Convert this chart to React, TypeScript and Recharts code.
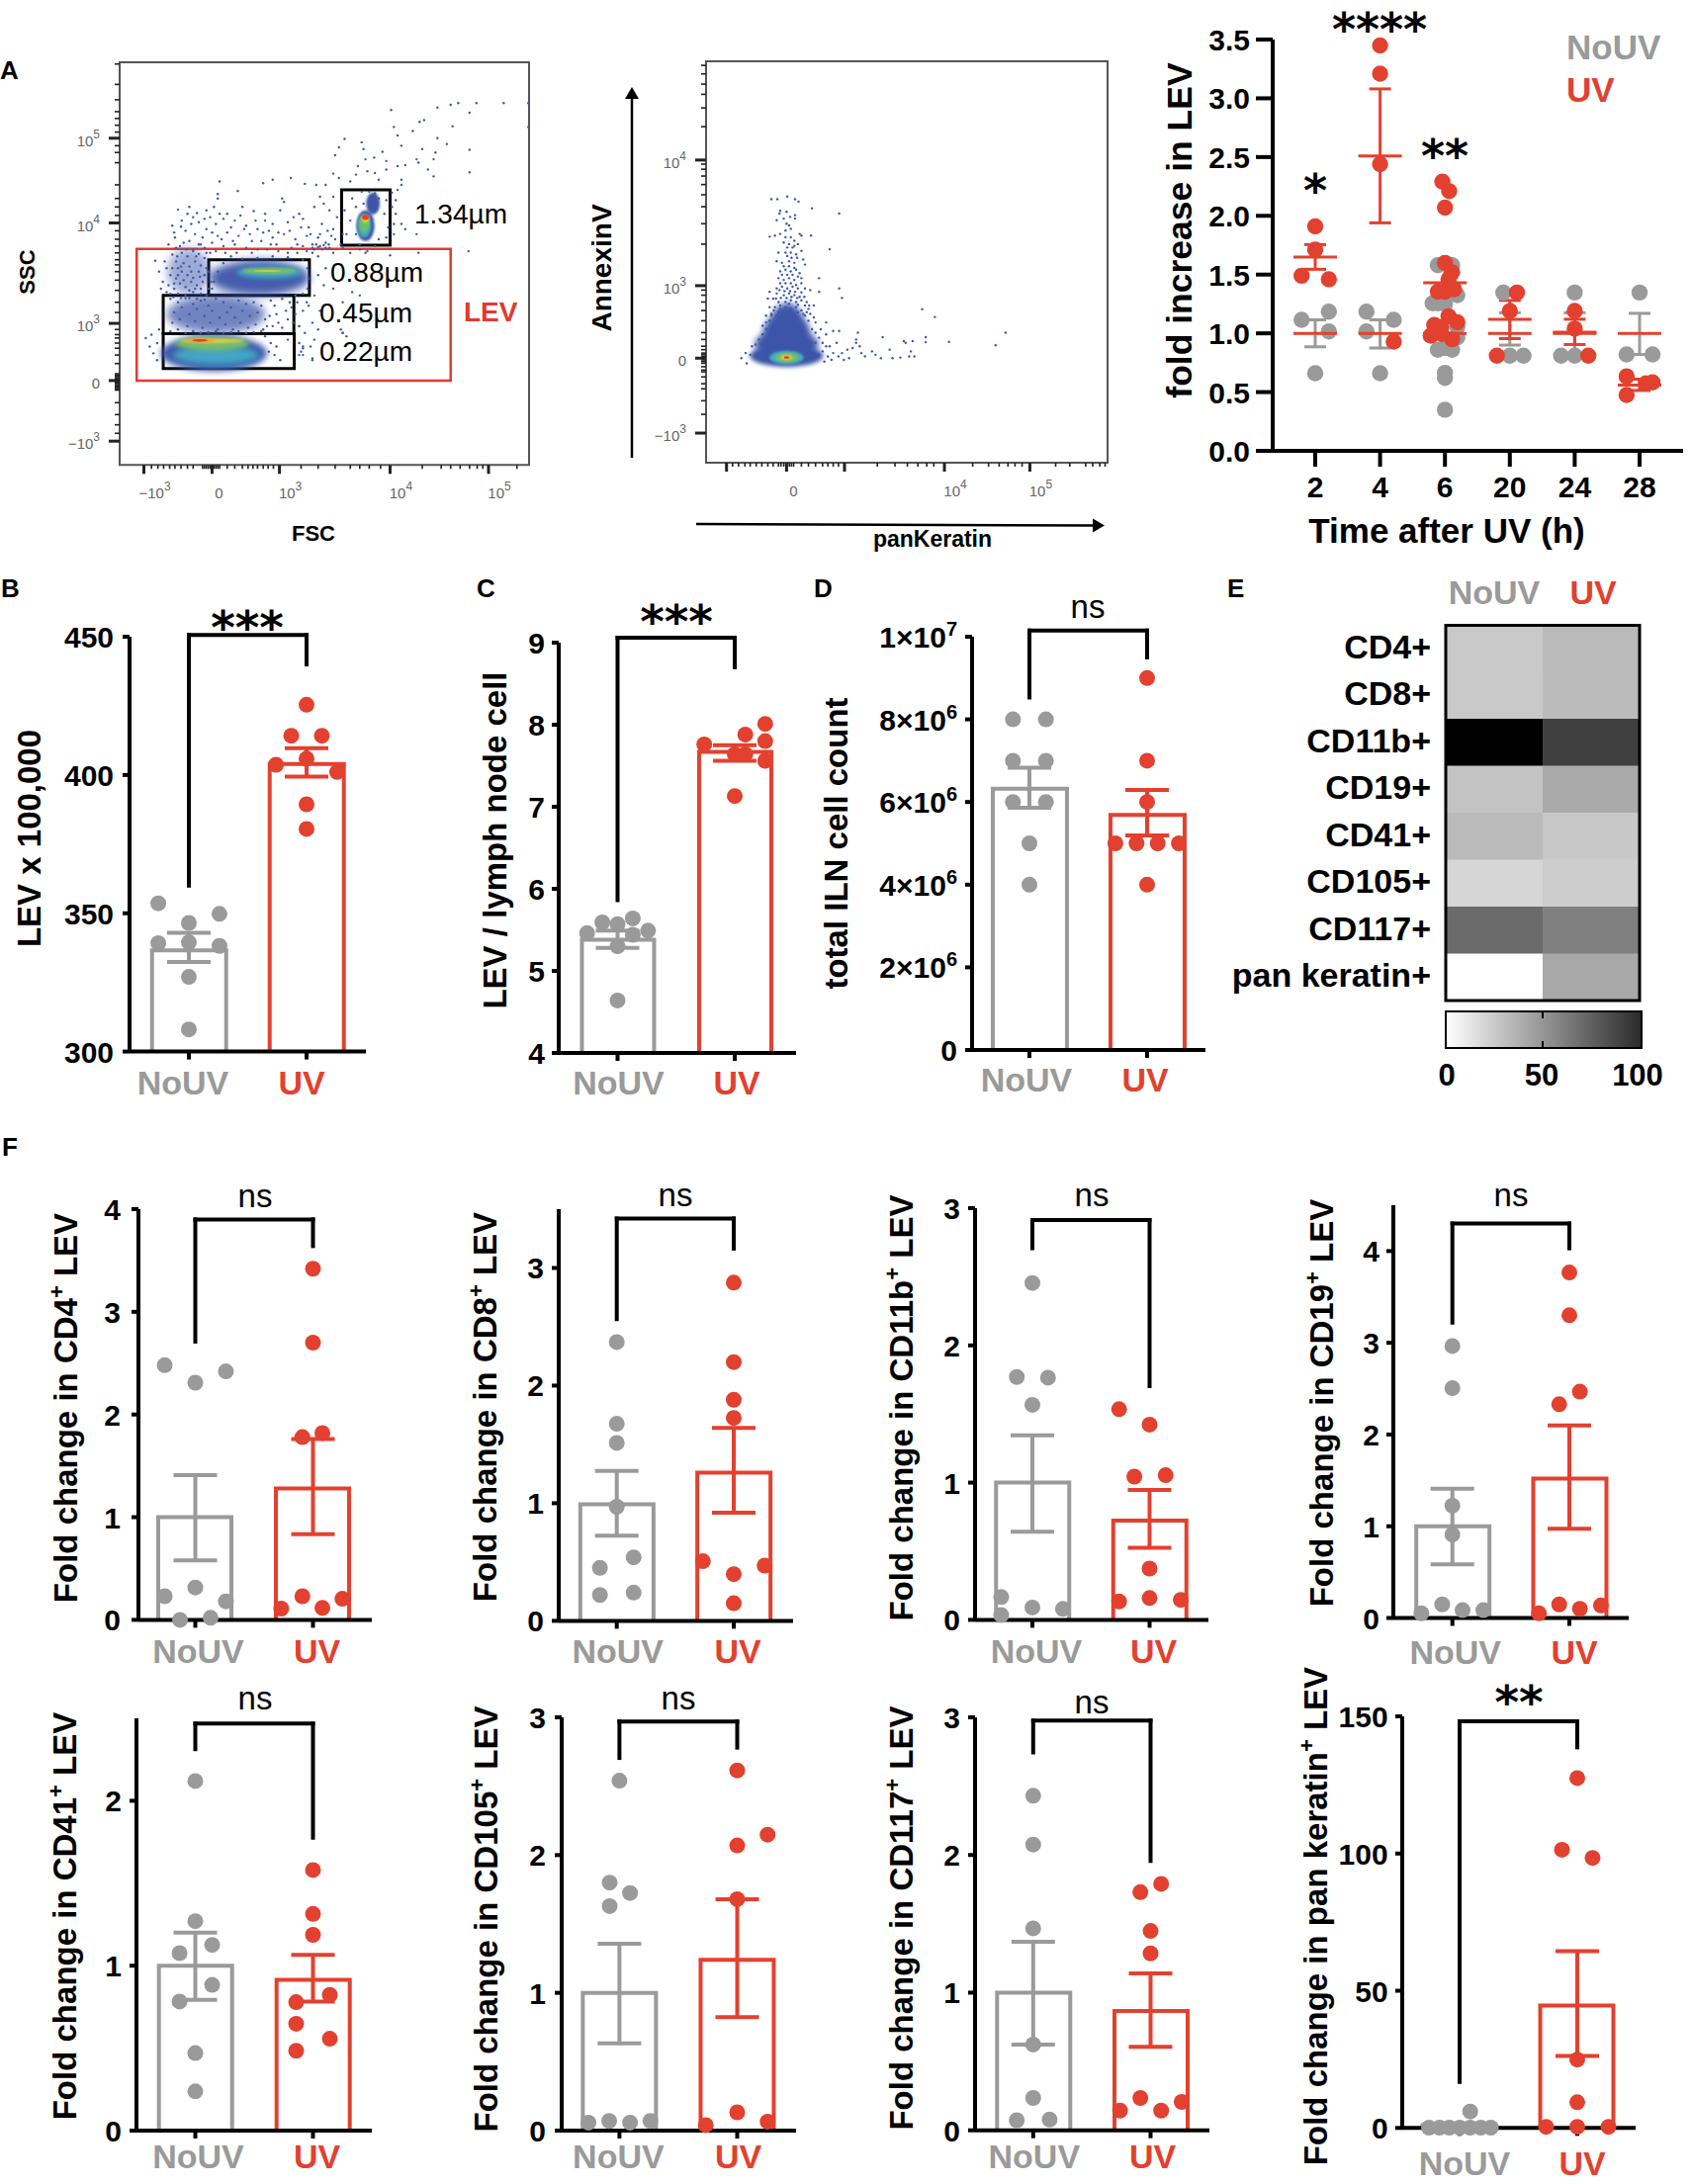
import React from 'react';
import {
  Bar,
  BarChart,
  Cell,
  ComposedChart,
  ErrorBar,
  ReferenceArea,
  ReferenceLine,
  Scatter,
  XAxis,
  YAxis,
} from 'recharts';

const GREY = '#9a9a9a';
const RED = '#e2412f';
const FONT = '"Liberation Sans", Arial, sans-serif';
const STAR_FONT = '"DejaVu Sans", sans-serif';
const groupLabels = ['NoUV', 'UV'];

// ---- B, C, D: bars with individual animals. Jitter is a fraction of the NoUV-UV distance.
const levNoUv = [353.6, 349.8, 346.5, 339.2, 339.5, 338.2, 327, 308];
const levNoUvX = [-0.26, 0.26, 0, -0.26, 0, 0.26, 0, 0];
const levUv = [425.4, 414.2, 414.2, 405.9, 403.7, 401.1, 389.4, 380.5];
const levUvX = [0, -0.13, 0.13, 0, -0.26, 0.26, 0, 0];
const levMeans = [336.6, 404];
const levLower = [332.4, 399.4];
const levUpper = [342.9, 409.7];
const levBracket = [360, 450.6, 440];
const levTicks = [300, 350, 400, 450];

const lnNoUv = [5.64, 5.59, 5.57, 5.46, 5.49, 5.44, 5.3, 4.64];
const lnNoUvX = [0.13, -0.13, 0, -0.26, 0.26, 0.13, 0, 0];
const lnUv = [8.01, 7.88, 7.8, 7.76, 7.64, 7.64, 7.56, 7.13];
const lnUvX = [0.26, 0.09, 0.26, -0.26, 0, 0.09, 0.26, 0];
const lnMeans = [5.38, 7.67];
const lnLower = [5.28, 7.56];
const lnUpper = [5.49, 7.75];
const lnBracket = [5.86, 9.06, 8.7];
const lnTicks = [4, 5, 6, 7, 8, 9];

const ilnNoUv = [8, 8, 7, 7, 6, 6, 5, 4];
const ilnNoUvX = [-0.14, 0.14, -0.14, 0.14, -0.14, 0.14, 0, 0];
const ilnUv = [9, 7, 6, 5, 5, 5, 5, 4];
const ilnUvX = [0, 0, 0, -0.27, -0.09, 0.09, 0.27, 0];
const ilnMeans = [6.32, 5.69];
const ilnLower = [5.86, 5.19];
const ilnUpper = [6.83, 6.29];
const ilnBracket = [8.53, 10.15, 9.5];
const ilnTicks = [0, 2, 4, 6, 8, 10];
const ilnTickLabels = [['0', ''], ['2×10', '6'], ['4×10', '6'], ['6×10', '6'], ['8×10', '6'], ['1×10', '7']];

// ---- F
const cd4NoUv = [2.48, 2.42, 2.31, 0.315, 0.23, 0.18, 0, 0.02];
const cd4NoUvX = [-0.26, 0.26, 0, 0, -0.26, 0.26, -0.13, 0.13];
const cd4Uv = [3.42, 2.7, 1.82, 1.78, 0.23, 0.205, 0.116, 0.11];
const cd4UvX = [0, 0, 0.08, -0.09, -0.09, 0.25, 0.08, -0.27];
const cd4Means = [1, 1.28];
const cd4Lower = [0.58, 0.835];
const cd4Upper = [1.41, 1.76];
const cd4Bracket = [2.71, 3.9, 3.64];

const cd8NoUv = [2.37, 1.675, 1.513, 0.97, 0.54, 0.45, 0.24, 0.22];
const cd8NoUvX = [0, 0, 0, 0, 0.144, -0.144, 0.144, -0.144];
const cd8Uv = [2.875, 2.2, 1.88, 1.725, 0.507, 0.47, 0.397, 0.15];
const cd8UvX = [0, 0, 0, 0, -0.264, 0.264, 0, 0];
const cd8Means = [0.99, 1.26];
const cd8Lower = [0.725, 0.92];
const cd8Upper = [1.275, 1.64];
const cd8Bracket = [2.565, 3.42, 3.165];

const cd11bNoUv = [2.455, 1.77, 1.765, 1.567, 0.166, 0.09, 0.08, 0.035];
const cd11bNoUvX = [0, -0.133, 0.133, 0, -0.266, 0, 0.26, -0.266];
const cd11bUv = [1.535, 1.423, 1.044, 1.054, 0.374, 0.159, 0.134, 0.146];
const cd11bUvX = [-0.26, 0, -0.13, 0.137, 0, 0, -0.26, 0.266];
const cd11bMeans = [1, 0.724];
const cd11bLower = [0.642, 0.526];
const cd11bUpper = [1.344, 0.947];
const cd11bBracket = [2.708, 2.913, 1.703];

const cd19NoUv = [2.965, 2.505, 1.224, 0.91, 0.148, 0.05, 0.085, 0.085];
const cd19NoUvX = [0, 0, 0, 0, -0.087, -0.265, 0.087, 0.265];
const cd19Uv = [3.766, 3.3, 2.467, 2.33, 0.148, 0.137, 0.1, 0.05];
const cd19UvX = [0, 0, 0.09, -0.087, -0.087, 0.27, 0.09, -0.26];
const cd19Means = [1, 1.52];
const cd19Lower = [0.586, 0.972];
const cd19Upper = [1.41, 2.1];
const cd19Bracket = [3.22, 4.3, 4.03];

const cd41NoUv = [2.12, 1.27, 1.126, 1.076, 0.884, 0.783, 0.47, 0.238];
const cd41NoUvX = [0, 0, 0.143, -0.134, 0.143, -0.134, 0, 0];
const cd41Uv = [1.58, 1.314, 1.187, 0.823, 0.779, 0.648, 0.557, 0.484];
const cd41UvX = [0, 0, 0, 0.143, -0.143, -0.143, 0.143, -0.143];
const cd41Means = [1, 0.914];
const cd41Lower = [0.793, 0.783];
const cd41Upper = [1.2, 1.066];
const cd41Bracket = [2.313, 2.468, 1.776];

const cd105NoUv = [2.54, 1.8, 1.725, 1.63, 0.07, 0.058, 0.058, 0.07];
const cd105NoUvX = [0, -0.083, 0.09, -0.083, -0.087, -0.263, 0.09, 0.263];
const cd105Uv = [2.615, 2.148, 2.07, 1.68, 0.133, 0.065, 0.04];
const cd105UvX = [0, 0.258, 0, 0, 0, 0.258, -0.267];
const cd105Means = [1, 1.24];
const cd105Lower = [0.634, 0.823];
const cd105Upper = [1.356, 1.68];
const cd105Bracket = [2.705, 2.97, 2.78];

const cd117NoUv = [2.43, 2.076, 1.467, 0.623, 0.235, 0.073, 0.078];
const cd117NoUvX = [0, 0, 0, 0, 0, -0.14, 0.14];
const cd117Uv = [1.79, 1.73, 1.448, 1.285, 0.235, 0.206, 0.143, 0.143];
const cd117UvX = [0.09, -0.087, 0, 0, -0.087, 0.265, -0.26, 0.09];
const cd117Means = [1, 0.866];
const cd117Lower = [0.623, 0.606];
const cd117Upper = [1.37, 1.14];
const cd117Bracket = [2.745, 2.976, 1.957];

const panKNoUv = [6, 0.1, 0.1, 0.1, 0.1, 0.1, 0.1, 0.1];
const panKNoUvX = [0.09, -0.26, -0.17, -0.087, 0, 0.09, 0.18, 0.265];
const panKUv = [127.5, 101.4, 98.4, 24.9, 9.35, 0.4, 0.4, 0.4];
const panKUvX = [0, -0.13, 0.13, 0, 0, -0.265, 0, 0.265];
const panKMeans = [1, 44.6];
const panKLower = [0.4, 26.2];
const panKUpper = [1.6, 64.4];
const panKBracket = [16.8, 148.2, 138.7];

// ---- A, right: time course
const timeCategories = ['2', '4', '6', '20', '24', '28'];
const timeTicks = [0, 0.5, 1, 1.5, 2, 2.5, 3, 3.5];
const timeNoUv = [
  [1.115, 1.184, 1.016, 0.661],
  [1.184, 1.115, 1.016, 0.661],
  [1.58, 1.58, 1.256, 1.325, 1.25, 1.256, 1.055, 1.055, 0.965, 0.86, 0.86, 0.664, 0.62, 0.35, 0.875],
  [1.347, 0.81, 0.81],
  [1.347, 0.81, 0.81],
  [1.347, 0.82, 0.82],
];
const timeNoUvX = [
  [-0.21, 0.21, 0.21, 0],
  [-0.21, 0.21, -0.21, 0],
  [-0.11, 0.11, -0.11, 0.19, 0, -0.19, -0.11, 0.19, 0.19, -0.11, 0.11, 0, 0, 0, 0],
  [-0.1, 0, 0.21],
  [0, -0.21, 0],
  [0, -0.2, 0.2],
];
const timeNoUvMeans = [1, 1, 1, 1, 1, 1];
const timeNoUvLower = [0.885, 0.875, 0.9, 0.9, 0.81, 0.82];
const timeNoUvUpper = [1.115, 1.115, 1.1, 1.175, 1.175, 1.17];
const timeUv = [
  [1.91, 1.713, 1.49, 1.46],
  [3.45, 3.21, 2.44, 0.93],
  [2.29, 2.21, 2.07, 1.6, 1.52, 1.355, 1.376, 1.46, 1.355, 1.145, 1.094, 1.07, 0.98, 1.055, 0.95, 0.995],
  [1.347, 1.19, 0.81],
  [1.19, 1.04, 0.81],
  [0.634, 0.583, 0.475, 0.574],
];
const timeUvX = [
  [0, 0, -0.21, 0.21],
  [0, 0, 0, 0.21],
  [-0.04, 0.065, 0, 0, 0.11, -0.11, 0.14, 0.055, 0, 0.055, 0.19, -0.165, -0.22, -0.055, 0.11, -0.055],
  [0.11, 0, -0.2],
  [0, 0, 0.21],
  [-0.2, 0.2, -0.2, 0.1],
];
const timeUvMeans = [1.65, 2.51, 1.43, 1.12, 1.01, 0.56];
const timeUvLower = [1.545, 1.94, 1.31, 0.955, 0.905, 0.514];
const timeUvUpper = [1.755, 3.08, 1.55, 1.28, 1.12, 0.61];

// ---- E: heat map, percent of max
const heatRows = ['CD4+', 'CD8+', 'CD11b+', 'CD19+', 'CD41+', 'CD105+', 'CD117+', 'pan keratin+'];
const heatNoUv = [21, 21, 100, 23.5, 27, 16, 58, 0];
const heatUv = [27, 26.5, 75, 33.5, 21.5, 19.5, 50, 34];

// ---- A, flow plots. Values are display channels of the cytometer plot.
const fscMajorTicks = [380, 560, 738, 1030, 1290];
const fscMinorTicks = [400, 417, 432, 448, 462, 478, 495, 510, 535, 540, 545, 550, 555, 565, 570, 575, 580, 600, 620, 640, 655, 668, 680, 695, 708, 722, 795, 840, 885, 925, 950, 975, 1005, 1115, 1165, 1190, 1215, 1240, 1260, 1275, 1365];
const fscLabels = [['\u221210', '3'], ['0', ''], ['10', '3'], ['10', '4'], ['10', '5']];
const sscMajorTicks = [192, 370, 538, 833, 1082];
const sscMinorTicks = [215, 240, 270, 305, 342, 346, 350, 354, 358, 362, 366, 374, 378, 382, 386, 390, 420, 445, 465, 480, 495, 505, 520, 570, 600, 635, 665, 690, 710, 725, 745, 765, 785, 810, 855, 880, 905, 945, 1010, 1040, 1060, 1100, 1120, 1140, 1160, 1195, 1240, 1300];
const sscLabels = [['\u221210', '3'], ['0', ''], ['10', '3'], ['10', '4'], ['10', '5']];

const fscSscDots = [
  [1190,1180],[1210,1185],[1258,1185],[1330,1185],[1395,1185],[1395,1115],[1240,1157],[1155,1172],[1033,1165],[1120,1135],[1108,1130],[1195,1117],[1040,1115],[1090,1103],[1155,1082],[1240,1048],[1180,1065],[1050,1090],[1060,1060],[910,1080],[955,1070],[895,1055],[885,1032],[1010,1042],[988,1025],[960,1050],[1150,1040],[1115,1050],[1100,1020],[1240,982],[1145,1020],[1130,990],[1145,970],[1070,1003],[1105,1010],[1050,1000],[1020,1015],[1020,990],[990,980],[965,1020],[945,1000],[970,985],[880,978],[895,965],[940,975],[925,955],[1060,960],[1060,945],[1000,960],[1050,930],[1035,922],[580,955],[720,960],[768,965],[695,950],[805,948],[835,945],[860,945],[628,927],[575,918],[575,905],[745,905],[750,895],[845,910],[855,890],[880,910],
  [470,872],[500,880],[520,862],[545,870],[565,880],[600,860],[640,880],[670,868],[700,860],[740,870],[790,860],[830,880],[870,870],[890,850],[480,840],[510,850],[455,825],[540,845],[570,830],[590,845],[620,840],[650,825],[680,815],[700,840],[720,830],[760,835],[800,845],[815,820],[850,830],[880,815],[905,800],[900,770],[885,785],[460,805],[490,810],[515,800],[545,815],[575,795],[600,805],[630,795],[660,800],[690,780],[720,790],[750,800],[780,785],[810,795],[840,790],[860,775],[870,760],[835,770],[855,768],[845,765],[500,780],[530,770],[560,775],[590,765],[620,770],[650,760],[680,755],[715,770],[770,760],[800,765],[825,770],[475,765],[510,755],
  [462,790],[478,822],[495,860],[505,830],[525,835],[535,790],[555,850],[560,805],[580,860],[585,785],[610,820],[615,780],[635,855],[645,815],[665,780],[675,840],[695,805],[710,810],[730,770],[735,805],[765,810],[775,850],[785,770],[795,820],[820,800],[830,755],[845,800],[865,810],[875,795],[850,755],[860,760],[868,770],[840,762],[825,745],[810,750],[785,745],[760,745],[735,750],[705,755],[665,745],[625,745],[595,745],[570,750],[555,745],[540,760],[525,770],[485,775],[465,760],[445,770],
  [410,722],[420,690],[440,700],[455,740],[465,720],[480,745],[495,735],[510,750],[525,742],[540,730],[470,700],[485,715],[500,705],[515,720],[530,708],[545,700],[450,680],[465,670],[480,690],[495,680],[510,672],[525,690],[540,680],[445,650],[460,640],[475,655],[490,645],[505,660],[520,650],[535,660],[550,640],[450,625],[470,625],[490,620],[510,630],[530,625],[545,620],
  [455,700],[468,735],[478,705],[492,755],[505,690],[518,735],[528,675],[545,745],[552,690],[557,660],[460,655],[470,680],[485,665],[500,635],[515,640],[530,640],[458,615],[478,612],[500,612],[520,610],[540,608],[440,630],[430,660],[425,640],[435,720],
  [825,760],[840,735],[860,700],[880,745],[905,760],[925,745],[950,755],[970,750],[1030,738],[1105,745],[1237,750],[840,680],[855,650],[880,640],[930,630],[950,620],[905,600],[830,620],[845,575],[810,600],[805,510],[830,490],[905,510],[915,500],[790,530],[795,455],[825,435],[800,470],[790,445],
  [560,640],[565,660],[575,690],[590,715],[610,735],[640,728],[680,730],[720,735],[760,732],[800,725],[812,700],[815,670],[812,640],[800,625],[780,620],
  [910,870],[925,840],[915,800],[940,800],[1000,785],[1020,790],[1040,830],[1045,860],[1035,880],[1045,900],[1060,830],[1040,800],[1070,815],[1100,800],[1015,860],[1020,900],[1000,905],[990,920],[975,925],[955,925],[940,880],[930,905],[960,890],[1025,820],[950,770],[965,745],[990,765],
  [450,610],[470,600],[490,612],[510,595],[530,605],[550,590],[570,610],[590,600],[610,585],[630,605],[650,595],[670,600],[690,590],[715,605],[745,610],[770,585],[800,575],[460,570],[480,585],[500,565],[520,580],[540,560],[560,575],[580,555],[600,570],[620,555],[640,575],[660,560],[680,570],[700,550],[730,565],[760,550],[790,530],[455,540],[475,550],[495,530],[515,545],[535,525],[555,540],[575,520],[595,535],[615,520],[635,540],[655,525],[675,535],[695,520],[720,530],[745,525],[775,540],[450,515],[470,520],[490,510],[510,515],[530,510],[550,512],[570,515],[590,510],[610,512],[630,515],[650,510],[670,512],[690,515],
  [705,530],[712,560],[725,590],[735,540],[755,575],[765,600],[780,565],[785,600],[815,590],[825,540],[840,520],
  [385,495],[395,470],[400,505],[415,480],[420,520],[405,450],[415,430],[700,500],[715,480],[730,470],[710,455],[725,445],[740,430],[760,490],[790,480],[800,465],[800,445],[820,470],[825,430],[900,520],[905,510],
];
// x, y, radius x, radius y, colour, opacity, blur
const fscSscDensity = [
  [570, 565, 130, 56, '#3c55a8', 0.72, 4],
  [498, 690, 56, 68, '#3c55a8', 0.5, 5],
  [565, 450, 140, 52, '#3c55a8', 1, 3],
  [570, 445, 115, 28, '#43a6c6', 1, 3],
  [560, 478, 98, 20, '#74bf6c', 1, 2],
  [560, 487, 85, 7, '#d8cb4c', 1, 1],
  [530, 488, 40, 5, '#f0a030', 1, 1],
  [528, 488, 20, 4, '#e8402a', 1, 0.5],
  [685, 672, 132, 52, '#3c55a8', 0.95, 4],
  [712, 688, 88, 18, '#44a2c4', 1, 2],
  [712, 692, 72, 9, '#76be66', 1, 1],
  [706, 692, 36, 3, '#c8c84a', 1, 0.5],
  [985, 890, 18, 32, '#3c55a8', 1, 1],
  [965, 825, 24, 45, '#3c55a8', 1, 1],
  [962, 825, 18, 35, '#41a8c0', 1, 1],
  [962, 830, 14, 25, '#6abf69', 1, 1],
  [965, 845, 10, 12, '#e0d040', 1, 1],
  [965, 850, 9, 8, '#e8402a', 1, 0.5],
];
const gate134 = [902, 1030, 768, 930];
const gate088 = [551, 817, 620, 725];
const gate045 = [431, 776, 508, 620];
const gate022 = [431, 777, 405, 508];
const gateLev = [361, 1190, 370, 757];

const panKMajorTicks = [378, 548, 712, 995, 1237];
const panKMinorTicks = [395, 412, 430, 445, 462, 478, 495, 510, 525, 532, 540, 556, 562, 568, 590, 610, 630, 650, 665, 680, 695, 805, 855, 890, 920, 945, 965, 1075, 1120, 1150, 1175, 1195, 1215, 1310, 1350, 1395, 1415, 1435, 1450];
const panKLabels = [['', ''], ['0', ''], ['', ''], ['10', '4'], ['10', '5']];
const annexMajorTicks = [215, 435, 648, 1017];
const annexMinorTicks = [270, 310, 345, 360, 380, 395, 400, 410, 420, 425, 430, 440, 445, 450, 460, 470, 490, 510, 545, 575, 600, 620, 635, 770, 830, 880, 915, 945, 970, 990, 1005, 1115, 1170, 1210, 1240, 1270, 1295];
const annexLabels = [['\u221210', '3'], ['0', ''], ['10', '3'], ['10', '4']];
const panKAnnexDots = [
  [505,902],[522,902],[550,910],[572,902],[582,895],[620,875],[697,860],[530,868],[548,865],[528,860],[572,855],[520,840],[572,845],[548,830],[555,825],[585,800],[590,795],[617,795],[500,792],[515,795],[530,800],[545,790],[560,790],[570,780],[580,770],[540,775],[550,760],[565,760],[525,745],[545,745],[560,745],[575,740],[590,750],[670,755],[520,720],[535,715],[555,720],[570,715],[595,725],[600,710],[530,690],[545,695],[560,690],[575,695],[585,685],[525,670],[540,665],[555,670],[570,665],[590,670],[640,670],[520,640],[535,645],[550,640],[565,645],[580,640],[600,640],[615,635],[520,625],[540,620],[555,625],[570,620],[585,615],[500,630],[510,610],[525,600],[545,600],[560,605],[575,600],[590,605],[605,600],[625,590],[640,630],[697,640],[705,612],[495,610],[500,585],[515,585],[530,580],[545,585],[560,580],[575,585],[590,575],[610,580],[490,560],[505,565],[520,560],[540,560],[555,560],[570,560],[600,560],[625,555],
  [505,560],[512,575],[525,570],[535,570],[550,570],[562,570],[580,570],[595,565],[605,570],[615,565],[500,545],[490,520],[480,505],[470,490],[460,475],[620,520],[630,510],[640,495],[650,480],[660,470],[630,480],[650,455],[665,440],[675,430],[640,445],[655,425],[530,590],[555,595],[580,592],[600,590],[612,590],[518,610],[532,612],[548,612],[562,615],[578,612],[598,615],[528,635],[542,632],[558,632],[572,630],[590,628],[530,655],[545,655],[560,655],[575,650],[590,655],[535,680],[550,680],[565,680],[580,675],[540,705],[555,705],[570,700],[550,735],[562,730],[578,730],[555,770],[570,765],[545,810],[560,815],[540,845],[558,850],
  [480,530],[490,540],[610,545],[630,540],[660,540],[680,515],[697,515],[645,520],[660,505],[750,510],[820,497],[880,485],[905,485],[942,497],[942,482],[1008,483],[1168,510],[1140,473],[932,579],[968,556],[745,480],[755,470],[690,480],[705,450],[720,460],[735,465],[760,450],[770,440],[790,455],[800,445],[815,435],[840,460],[848,435],[870,437],[885,480],[900,455],[895,440],[910,440],[745,490],[670,470],[680,450],[695,440],[710,430],[725,435],[435,420],[420,435],[432,450],[450,470],[445,445],
];
const panKAnnexDensity = [
  [548, 442, 104, 32, '#3c55a8', 1, 2],
  [548, 475, 90, 45, '#3c55a8', 1, 3],
  [548, 512, 66, 55, '#3c55a8', 1, 3],
  [550, 548, 42, 48, '#3c55a8', 1, 3],
  [548, 437, 48, 20, '#45abc4', 1, 1],
  [548, 437, 34, 14, '#72bf6a', 1, 1],
  [548, 437, 18, 8, '#dcc84a', 1, 1],
  [548, 437, 8, 4, '#e8402a', 1, 0.5],
];

// ---- layout
const dot = (r, fill) => (props) => <circle cx={props.cx} cy={props.cy} r={r} fill={fill} />;
const noMark = () => <g />;
const toPoints = (values, jitter, center) => values.map((y, i) => ({ x: center + jitter[i], y }));
const stat = (x, mean, lo, hi) => [{ x, y: mean, err: [mean - lo, hi - mean] }];

function DotBarPanel({ p }) {
  const TOP = 70;
  const YW = 130;
  const XH = 70;
  const plotH = p.yBottom - p.yTop;
  const plotW = p.xEnd - p.axisX;
  const spacing = p.c1 - p.c0;
  const domainX = [(p.axisX - p.c0) / spacing, (p.xEnd - p.c0) / spacing];
  const bars = p.means.map((y, i) => ({ x: i, y }));
  const labelBase = TOP + plotH + (p.labelY - p.yBottom);
  const [left, top, right] = p.bracket;
  const seg = { stroke: '#000', strokeWidth: 4, ifOverflow: 'visible', strokeLinecap: 'square' };

  const yTick = (t) => {
    const custom = p.tickLabels ? p.tickLabels[t.index] : null;
    return (
      <text x={YW - (p.axisX - p.labelRight)} y={t.y + 11} textAnchor="end" fontFamily={FONT} fontWeight="bold" fontSize={30}>
        {custom ? custom[0] : t.payload.value}
        {custom && custom[1] ? <tspan dy={-12} fontSize={20}>{custom[1]}</tspan> : null}
      </text>
    );
  };
  const xTick = (t) => (
    <text x={t.x + p.labelDx[t.index]} y={labelBase} textAnchor="middle" fontFamily={FONT} fontWeight="bold" fontSize={34} fill={t.index === 0 ? GREY : RED}>
      {groupLabels[t.index]}
    </text>
  );

  return (
    <div style={{ position: 'absolute', left: p.axisX - YW, top: p.yTop - TOP }}>
      <ComposedChart width={YW + plotW + 10} height={TOP + plotH + XH} data={bars} margin={{ top: TOP, right: 10, bottom: 0, left: 0 }}>
        <XAxis dataKey="x" type="number" domain={domainX} ticks={[0, 1]} interval={0} height={XH} allowDataOverflow
          tick={xTick} tickSize={8} tickLine={{ stroke: '#000', strokeWidth: 4 }} axisLine={{ stroke: '#000', strokeWidth: 4 }} />
        <YAxis type="number" domain={p.domainY} ticks={p.ticks} interval={0} width={YW}
          tick={yTick} tickSize={7} tickLine={{ stroke: '#000', strokeWidth: 4 }} axisLine={{ stroke: '#000', strokeWidth: 4 }} />
        <Bar dataKey="y" barSize={p.barW} isAnimationActive={false}
          shape={(b) => {
            // the library hands back a narrow band on a number axis, so widen it around its centre
            const cx = b.x + b.width / 2;
            const half = p.barW / 2;
            return (
              <path d={`M${cx - half},${b.y + b.height}V${b.y}H${cx + half}V${b.y + b.height}`} fill="#fff" stroke={b.payload.x === 0 ? GREY : RED} strokeWidth={4} />
            );
          }} />
        <Scatter data={toPoints(p.noUv, p.noUvX, 0)} dataKey="y" shape={dot(8, GREY)} isAnimationActive={false} />
        <Scatter data={stat(0, p.means[0], p.lower[0], p.upper[0])} dataKey="y" shape={noMark} isAnimationActive={false}>
          <ErrorBar dataKey="err" direction="y" width={22} stroke={GREY} strokeWidth={4} isAnimationActive={false} />
        </Scatter>
        <Scatter data={toPoints(p.uv, p.uvX, 1)} dataKey="y" shape={dot(8, RED)} isAnimationActive={false} />
        <Scatter data={stat(1, p.means[1], p.lower[1], p.upper[1])} dataKey="y" shape={noMark} isAnimationActive={false}>
          <ErrorBar dataKey="err" direction="y" width={22} stroke={RED} strokeWidth={4} isAnimationActive={false} />
        </Scatter>
        <ReferenceLine {...seg} segment={[{ x: 0, y: left }, { x: 0, y: top }]} />
        <ReferenceLine {...seg} segment={[{ x: 0, y: top }, { x: 1, y: top }]} />
        <ReferenceLine {...seg} segment={[{ x: 1, y: top }, { x: 1, y: right }]} />
      </ComposedChart>
    </div>
  );
}

const meanLine = (half, stroke) => (props) => (
  <line x1={props.cx - half} x2={props.cx + half} y1={props.cy} y2={props.cy} stroke={stroke} strokeWidth={3} />
);

function TimeCoursePanel() {
  const axisX = 1287;
  const xEnd = 1702;
  const yTop = 40;
  const yBottom = 456;
  const c0 = 1330;
  const step = 65.6;
  const TOP = 30;
  const YW = 70;
  const XH = 60;
  const noUvDots = timeNoUv.flatMap((vals, i) => toPoints(vals, timeNoUvX[i], i));
  const uvDots = timeUv.flatMap((vals, i) => toPoints(vals, timeUvX[i], i));
  const noUvStats = timeCategories.map((_, i) => ({ x: i, y: timeNoUvMeans[i], err: [timeNoUvMeans[i] - timeNoUvLower[i], timeNoUvUpper[i] - timeNoUvMeans[i]] }));
  const uvStats = timeCategories.map((_, i) => ({ x: i, y: timeUvMeans[i], err: [timeUvMeans[i] - timeUvLower[i], timeUvUpper[i] - timeUvMeans[i]] }));
  return (
    <div style={{ position: 'absolute', left: axisX - YW, top: yTop - TOP }}>
      <ComposedChart width={YW + xEnd - axisX} height={TOP + yBottom - yTop + XH} margin={{ top: TOP, right: 0, bottom: 0, left: 0 }}>
        <XAxis dataKey="x" type="number" domain={[(axisX - c0) / step, (xEnd - c0) / step]} ticks={[0, 1, 2, 3, 4, 5]} interval={0} height={XH}
          tick={(t) => (
            <text x={t.x} y={TOP + yBottom - yTop + 47} textAnchor="middle" fontFamily={FONT} fontWeight="bold" fontSize={30}>{timeCategories[t.index]}</text>
          )}
          tickSize={16} tickLine={{ stroke: '#000', strokeWidth: 4 }} axisLine={{ stroke: '#000', strokeWidth: 4 }} />
        <YAxis type="number" domain={[0, 3.5]} ticks={timeTicks} interval={0} width={YW}
          tick={(t) => (
            <text x={YW - 23} y={t.y + 11} textAnchor="end" fontFamily={FONT} fontWeight="bold" fontSize={30}>{t.payload.value.toFixed(1)}</text>
          )}
          tickSize={17} tickLine={{ stroke: '#000', strokeWidth: 4 }} axisLine={{ stroke: '#000', strokeWidth: 4 }} />
        <Scatter data={noUvDots} dataKey="y" shape={dot(8.2, GREY)} isAnimationActive={false} />
        <Scatter data={noUvStats} dataKey="y" shape={meanLine(22, RED)} isAnimationActive={false}>
          <ErrorBar dataKey="err" direction="y" width={11} stroke={GREY} strokeWidth={3} isAnimationActive={false} />
        </Scatter>
        <Scatter data={uvDots} dataKey="y" shape={dot(8.2, RED)} isAnimationActive={false} />
        <Scatter data={uvStats} dataKey="y" shape={meanLine(22, RED)} isAnimationActive={false}>
          <ErrorBar dataKey="err" direction="y" width={11} stroke={RED} strokeWidth={3} isAnimationActive={false} />
        </Scatter>
      </ComposedChart>
    </div>
  );
}

function HeatmapPanel() {
  const rows = heatRows.map((row) => ({ row, noUvCell: 1, uvCell: 1 }));
  const grey = (v) => {
    const c = Math.round(255 * (1 - v / 100));
    return `rgb(${c},${c},${c})`;
  };
  const YW = 240;
  return (
    <div style={{ position: 'absolute', left: 1462 - YW, top: 632 }}>
      <BarChart layout="vertical" width={YW + 196} height={380} data={rows} barCategoryGap={0} margin={{ top: 0, right: 0, bottom: 0, left: 0 }}>
        <XAxis type="number" hide domain={[0, 2]} />
        <YAxis type="category" dataKey="row" width={YW} interval={0} axisLine={false} tickLine={false}
          tick={(t) => (
            <text x={YW - 15} y={t.y + 10} textAnchor="end" fontFamily={FONT} fontWeight="bold" fontSize={34}>{t.payload.value}</text>
          )} />
        <Bar dataKey="noUvCell" stackId="h" isAnimationActive={false}>
          {heatNoUv.map((v, i) => <Cell key={i} fill={grey(v)} />)}
        </Bar>
        <Bar dataKey="uvCell" stackId="h" isAnimationActive={false}>
          {heatUv.map((v, i) => <Cell key={i} fill={grey(v)} />)}
        </Bar>
      </BarChart>
    </div>
  );
}

function FlowPanel({ f }) {
  const YW = 110;
  const plotW = f.right - f.left;
  const plotH = f.bottom - f.top;
  const sx = plotW / (f.domainX[1] - f.domainX[0]);
  const sy = plotH / (f.domainY[1] - f.domainY[0]);
  const dots = f.dots.map(([x, y]) => ({ x, y }));
  const blobs = f.density.map(([x, y, rx, ry, fill, opacity, blur]) => ({ x, y, rx, ry, fill, opacity, blur }));
  const xTicks = [...f.xMajor, ...f.xMinor].sort((a, b) => a - b);
  const yTicks = [...f.yMajor, ...f.yMinor].sort((a, b) => a - b);
  const bottomPx = 10 + plotH;
  const supLabel = (label, x, y, anchor) => (
    <text x={x} y={y} textAnchor={anchor} fontFamily={FONT} fontSize={15} fill="#666">
      {label[0]}
      {label[1] ? <tspan dy={-8} fontSize={12}>{label[1]}</tspan> : null}
    </text>
  );
  const xTick = (t) => {
    const idx = f.xMajor.indexOf(t.payload.value);
    const major = idx >= 0;
    return (
      <g>
        <line x1={t.x} x2={t.x} y1={bottomPx} y2={bottomPx + (major ? 9 : 4)} stroke="#222" strokeWidth={major ? 3 : 1.6} />
        {major ? supLabel(f.xLabels[idx], t.x + (idx === 1 ? 7 : 11), bottomPx + 34, 'middle') : null}
      </g>
    );
  };
  const yTick = (t) => {
    const idx = f.yMajor.indexOf(t.payload.value);
    const major = idx >= 0;
    return (
      <g>
        <line x1={YW} x2={YW - (major ? 11 : 5)} y1={t.y} y2={t.y} stroke="#222" strokeWidth={major ? 3 : 1.6} />
        {major ? supLabel(f.yLabels[idx], YW - 20, t.y + 8, 'end') : null}
      </g>
    );
  };
  const area = (g, stroke, width) => (
    <ReferenceArea x1={g[0]} x2={g[1]} y1={g[2]} y2={g[3]} fill="none" stroke={stroke} strokeWidth={width} ifOverflow="visible" />
  );
  return (
    <div style={{ position: 'absolute', left: f.left - YW, top: f.top - 10 }}>
      <ComposedChart width={YW + plotW + 10} height={10 + plotH + 50} margin={{ top: 10, right: 10, bottom: 0, left: 0 }}>
        <XAxis dataKey="x" type="number" domain={f.domainX} ticks={xTicks} interval={0} height={50} axisLine={false} tickLine={false} tickSize={0} tickMargin={0} tick={xTick} />
        <YAxis type="number" domain={f.domainY} ticks={yTicks} interval={0} width={YW} axisLine={false} tickLine={false} tickSize={0} tickMargin={0} tick={yTick} />
        <Scatter data={blobs.slice(0, f.backLayers)} dataKey="y" isAnimationActive={false}
          shape={(b) => (
            <ellipse cx={b.cx} cy={b.cy} rx={b.rx * sx} ry={b.ry * sy} fill={b.fill} opacity={b.opacity} style={{ filter: `blur(${b.blur}px)` }} />
          )} />
        <Scatter data={dots} dataKey="y" shape={dot(1.2, '#3f58ad')} isAnimationActive={false} />
        <Scatter data={blobs.slice(f.backLayers)} dataKey="y" isAnimationActive={false}
          shape={(b) => (
            <ellipse cx={b.cx} cy={b.cy} rx={b.rx * sx} ry={b.ry * sy} fill={b.fill} opacity={b.opacity} style={{ filter: `blur(${b.blur}px)` }} />
          )} />
        {f.gates.map((g, i) => <React.Fragment key={i}>{area(g, '#000', 3)}</React.Fragment>)}
        {f.redGate ? area(f.redGate, '#e03a30', 2.5) : null}
        {area([f.domainX[0], f.domainX[1], f.domainY[0], f.domainY[1]], '#555', 2)}
      </ComposedChart>
    </div>
  );
}

const flowPanels = [
  {
    left: 121, right: 535, top: 62.7, bottom: 470, domainX: [316, 1397], domainY: [122, 1305],
    dots: fscSscDots, density: fscSscDensity, backLayers: 2, xMajor: fscMajorTicks, xMinor: fscMinorTicks, xLabels: fscLabels,
    yMajor: sscMajorTicks, yMinor: sscMinorTicks, yLabels: sscLabels,
    gates: [gate134, gate088, gate045, gate022], redGate: gateLev,
  },
  {
    left: 714, right: 1120, top: 62, bottom: 468, domainX: [320, 1457], domainY: [128, 1307],
    dots: panKAnnexDots, density: panKAnnexDensity, backLayers: 0, xMajor: panKMajorTicks, xMinor: panKMinorTicks, xLabels: panKLabels,
    yMajor: annexMajorTicks, yMinor: annexMinorTicks, yLabels: annexLabels, gates: [],
  },
];

const foldTicks3 = [0, 1, 2, 3];
const barPanels = [
  { axisX: 131, xEnd: 370, yTop: 644, yBottom: 1063.6, c0: 191, c1: 310, barW: 75, domainY: [300, 450], ticks: levTicks, labelRight: 115, labelY: 1107, labelDx: [-6, -5], noUv: levNoUv, noUvX: levNoUvX, uv: levUv, uvX: levUvX, means: levMeans, lower: levLower, upper: levUpper, bracket: levBracket, title: ['LEV x 100,000', '', ''], titleX: 41, titleY: 848, sig: '***', sigX: 250, sigY: 651 },
  { axisX: 565, xEnd: 805, yTop: 650, yBottom: 1065, c0: 624.5, c1: 743, barW: 73, domainY: [4, 9], ticks: lnTicks, labelRight: 551, labelY: 1107, labelDx: [1, 2], noUv: lnNoUv, noUvX: lnNoUvX, uv: lnUv, uvX: lnUvX, means: lnMeans, lower: lnLower, upper: lnUpper, bracket: lnBracket, title: ['LEV / lymph node cell', '', ''], titleX: 512, titleY: 850, sig: '***', sigX: 684, sigY: 645 },
  { axisX: 983, xEnd: 1219, yTop: 644, yBottom: 1062, c0: 1041, c1: 1160, barW: 75, domainY: [0, 10], ticks: ilnTicks, tickLabels: ilnTickLabels, labelRight: 968, labelY: 1104, labelDx: [-3, -2], noUv: ilnNoUv, noUvX: ilnNoUvX, uv: ilnUv, uvX: ilnUvX, means: ilnMeans, lower: ilnLower, upper: ilnUpper, bracket: ilnBracket, title: ['total ILN cell count', '', ''], titleX: 857, titleY: 853, sig: 'ns', sigX: 1100, sigY: 625 },
  { axisX: 140, xEnd: 376, yTop: 1222.6, yBottom: 1638, c0: 197.5, c1: 316.5, barW: 74, domainY: [0, 4], ticks: [0, 1, 2, 3, 4], labelRight: 122, labelY: 1682, labelDx: [3, 4], noUv: cd4NoUv, noUvX: cd4NoUvX, uv: cd4Uv, uvX: cd4UvX, means: cd4Means, lower: cd4Lower, upper: cd4Upper, bracket: cd4Bracket, title: ['Fold change in CD4', '+', ' LEV'], titleX: 78, titleY: 1424, sig: 'ns', sigX: 258, sigY: 1221 },
  { axisX: 565, xEnd: 802, yTop: 1222.6, yBottom: 1639, c0: 623.7, c1: 742, barW: 74, domainY: [0, 3.5], ticks: foldTicks3, labelRight: 550, labelY: 1682, labelDx: [1, 4], noUv: cd8NoUv, noUvX: cd8NoUvX, uv: cd8Uv, uvX: cd8UvX, means: cd8Means, lower: cd8Lower, upper: cd8Upper, bracket: cd8Bracket, title: ['Fold change in CD8', '+', ' LEV'], titleX: 502, titleY: 1423, sig: 'ns', sigX: 683, sigY: 1220 },
  { axisX: 986, xEnd: 1222, yTop: 1221.6, yBottom: 1638, c0: 1044, c1: 1162.5, barW: 74, domainY: [0, 3], ticks: foldTicks3, labelRight: 971, labelY: 1682, labelDx: [4, 4], noUv: cd11bNoUv, noUvX: cd11bNoUvX, uv: cd11bUv, uvX: cd11bUvX, means: cd11bMeans, lower: cd11bLower, upper: cd11bUpper, bracket: cd11bBracket, title: ['Fold change in CD11b', '+', ' LEV'], titleX: 923, titleY: 1424, sig: 'ns', sigX: 1104, sigY: 1220 },
  { axisX: 1409, xEnd: 1647, yTop: 1218.5, yBottom: 1636, c0: 1468.7, c1: 1587, barW: 74, domainY: [0, 4.5], ticks: [0, 1, 2, 3, 4], labelRight: 1395, labelY: 1682, labelDx: [3, 5], noUv: cd19NoUv, noUvX: cd19NoUvX, uv: cd19Uv, uvX: cd19UvX, means: cd19Means, lower: cd19Lower, upper: cd19Upper, bracket: cd19Bracket, title: ['Fold change in CD19', '+', ' LEV'], titleX: 1348, titleY: 1419, sig: 'ns', sigX: 1528, sigY: 1220 },
  { axisX: 138, xEnd: 376, yTop: 1738, yBottom: 2155, c0: 197.5, c1: 316.5, barW: 74, domainY: [0, 2.5], ticks: [0, 1, 2], labelRight: 123, labelY: 2193, labelDx: [3, 4], noUv: cd41NoUv, noUvX: cd41NoUvX, uv: cd41Uv, uvX: cd41UvX, means: cd41Means, lower: cd41Lower, upper: cd41Upper, bracket: cd41Bracket, title: ['Fold change in CD41', '+', ' LEV'], titleX: 77, titleY: 1938, sig: 'ns', sigX: 258, sigY: 1729 },
  { axisX: 568, xEnd: 805, yTop: 1736.7, yBottom: 2154.7, c0: 626.4, c1: 745.5, barW: 74, domainY: [0, 3], ticks: foldTicks3, labelRight: 552, labelY: 2193, labelDx: [-1, 1], noUv: cd105NoUv, noUvX: cd105NoUvX, uv: cd105Uv, uvX: cd105UvX, means: cd105Means, lower: cd105Lower, upper: cd105Upper, bracket: cd105Bracket, title: ['Fold change in CD105', '+', ' LEV'], titleX: 503, titleY: 1941, sig: 'ns', sigX: 686, sigY: 1729 },
  { axisX: 986, xEnd: 1223, yTop: 1737, yBottom: 2154.7, c0: 1044.8, c1: 1163.5, barW: 74, domainY: [0, 3], ticks: foldTicks3, labelRight: 971, labelY: 2193, labelDx: [1, 2], noUv: cd117NoUv, noUvX: cd117NoUvX, uv: cd117Uv, uvX: cd117UvX, means: cd117Means, lower: cd117Lower, upper: cd117Upper, bracket: cd117Bracket, title: ['Fold change in CD117', '+', ' LEV'], titleX: 923, titleY: 1940, sig: 'ns', sigX: 1104, sigY: 1733 },
  { axisX: 1418, xEnd: 1654, yTop: 1735.7, yBottom: 2152, c0: 1476, c1: 1595, barW: 74, domainY: [0, 150], ticks: [0, 50, 100, 150], labelRight: 1403.6, labelY: 2200, labelDx: [5, 5], noUv: panKNoUv, noUvX: panKNoUvX, uv: panKUv, uvX: panKUvX, means: panKMeans, lower: panKLower, upper: panKUpper, bracket: panKBracket, title: ['Fold change in pan keratin', '+', ' LEV'], titleX: 1342, titleY: 1938, sig: '**', sigX: 1536, sigY: 1738 },
];

const panelLetters = [['A', 0, 80], ['B', 1, 604], ['C', 482, 604], ['D', 823, 604], ['E', 1241, 604], ['F', 2, 1169]];
const gateTexts = [['1.34µm', 419, 226], ['0.88µm', 334, 285], ['0.45µm', 323, 325.5], ['0.22µm', 323, 365]];
const timeStars = [['*', 1330, 209], ['****', 1395, 46], ['**', 1461, 174]];

function Txt({ x, y, size = 33, weight = 'bold', fill = '#000', anchor = 'start', vertical = false, family = FONT, children }) {
  return (
    <text x={x} y={y} fontSize={size} fontWeight={weight} fill={fill} textAnchor={anchor} fontFamily={family}
      transform={vertical ? `rotate(-90 ${x} ${y})` : undefined}>
      {children}
    </text>
  );
}

function Overlay() {
  return (
    <svg width={1710} height={2209} style={{ position: 'absolute', left: 0, top: 0, pointerEvents: 'none' }}>
      <defs>
        <linearGradient id="heatScale" x1="0" y1="0" x2="1" y2="0">
          <stop offset="0" stopColor="#ffffff" />
          <stop offset="1" stopColor="#2a2a2a" />
        </linearGradient>
      </defs>
      {panelLetters.map(([t, x, y]) => <Txt key={t} x={x} y={y} size={26}>{t}</Txt>)}

      {gateTexts.map(([t, x, y]) => <Txt key={t} x={x} y={y} size={28} weight="normal">{t}</Txt>)}
      <Txt x={469} y={325} size={28} fill="#e03a30">LEV</Txt>
      <Txt x={35} y={275} size={22} anchor="middle" vertical>SSC</Txt>
      <Txt x={317} y={547} size={22} anchor="middle">FSC</Txt>
      <Txt x={618} y={271} size={28} anchor="middle" vertical>AnnexinV</Txt>
      <Txt x={943} y={553} size={23} anchor="middle">panKeratin</Txt>
      <line x1={639} y1={463} x2={639} y2={98} stroke="#000" strokeWidth={2.5} />
      <path d="M639,88L632,100H646Z" fill="#000" />
      <line x1={704} y1={530} x2={1107} y2={531.5} stroke="#000" strokeWidth={2.5} />
      <path d="M1117,531.5L1105,524.5V538.5Z" fill="#000" />

      <Txt x={1205} y={233} size={35.5} anchor="middle" vertical>fold increase in LEV</Txt>
      <Txt x={1463} y={549} size={35} anchor="middle">Time after UV (h)</Txt>
      <Txt x={1584} y={60} size={35} fill={GREY}>NoUV</Txt>
      <Txt x={1584} y={103} size={35} fill={RED}>UV</Txt>
      {timeStars.map(([t, x, y]) => <Txt key={x} x={x} y={y} size={46} anchor="middle" family={STAR_FONT}>{t}</Txt>)}

      <rect x={1462} y={632.5} width={196} height={379.5} fill="none" stroke="#000" strokeWidth={3} />
      <rect x={1462} y={1023} width={198} height={37} fill="url(#heatScale)" stroke="#000" strokeWidth={2} />
      <line x1={1560} x2={1560} y1={1023} y2={1030} stroke="#000" strokeWidth={2} />
      <line x1={1560} x2={1560} y1={1053} y2={1060} stroke="#000" strokeWidth={2} />
      <Txt x={1463} y={1098} size={31} anchor="middle">0</Txt>
      <Txt x={1559} y={1098} size={31} anchor="middle">50</Txt>
      <Txt x={1656} y={1098} size={31} anchor="middle">100</Txt>
      <Txt x={1511} y={611} size={34} anchor="middle" fill={GREY}>NoUV</Txt>
      <Txt x={1611} y={611} size={34} anchor="middle" fill={RED}>UV</Txt>

      {barPanels.map((p) => (
        <g key={p.axisX + '-' + p.yTop}>
          <Txt x={p.titleX} y={p.titleY} size={33} anchor="middle" vertical>
            {p.title[0]}
            {p.title[1] ? <tspan dy={-13} fontSize={22}>{p.title[1]}</tspan> : null}
            {p.title[2] ? <tspan dy={13}>{p.title[2]}</tspan> : null}
          </Txt>
          {p.sig === 'ns' ? (
            <Txt x={p.sigX} y={p.sigY} size={33} weight="normal" anchor="middle">ns</Txt>
          ) : (
            <Txt x={p.sigX} y={p.sigY} size={47} anchor="middle" family={STAR_FONT}>{p.sig}</Txt>
          )}
        </g>
      ))}
    </svg>
  );
}

export default function App() {
  return (
    <div style={{ position: 'absolute', left: 0, top: 0, width: 1710, height: 2209, background: '#fff', overflow: 'hidden', fontFamily: FONT }}>
      {flowPanels.map((f) => <FlowPanel key={f.left} f={f} />)}
      <TimeCoursePanel />
      {barPanels.map((p) => <DotBarPanel key={p.axisX + '-' + p.yTop} p={p} />)}
      <HeatmapPanel />
      <Overlay />
    </div>
  );
}
